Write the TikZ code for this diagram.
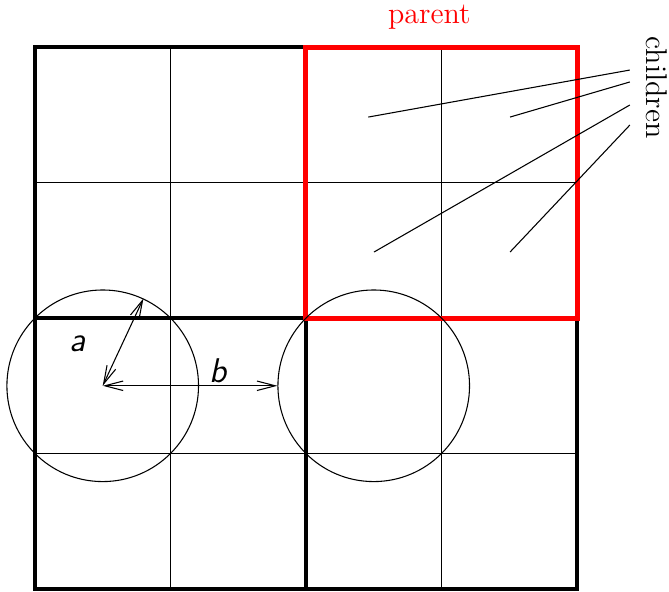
\documentclass[tikz,border=0pt]{standalone}
\usetikzlibrary{arrows.meta, positioning}
\definecolor{myred}{RGB}{255,0,0}

\begin{document}
\begin{tikzpicture}[x=2cm, y=2cm, line width=0.45pt,
    thickbox/.style={line width=1.3pt},
    parentbox/.style={line width=2.1pt, myred},
    dist/.style={{Straight Barb[length=2.7mm,width=1.4mm]}-{Straight Barb[length=2.7mm,width=1.4mm]}},
    ball/.style={circle, draw, inner sep=0pt, minimum size=2.828cm},
    lbl/.style={font=\Large\sffamily\itshape},
    captext/.style={font=\fontsize{12.6}{15}\selectfont}]
\useasboundingbox (-0.258,-0.015) rectangle (4.679,4.347);
% Grid and quadrants
\draw[step=2cm] (0,0) grid (4,4);
\draw[thickbox] (0,0) rectangle (4,4);
\draw[thickbox] (0,2) -- (2,2) (2,0) -- (2,2);
% Parent cell
\draw[parentbox] (2,2) rectangle (4,4);
\node[captext, myred] (parent) at (2.91,4.22) {parent};
% Circles and distances
\node[ball] (balla) at (0.5,1.5) {};
\node[ball] (ballb) at (2.5,1.5) {};
\draw[dist] (balla.center) -- (balla.65);
\draw[dist] (balla.center) -- (ballb.west);
\node[lbl] (lbla) at (0.317,1.81) {a};
\node[lbl] (lblb) at (1.35,1.61) {b};
% Children
\node[captext, rotate=-90] (children) at (4.585,3.70) {children};
\coordinate (k1) at (4.39,3.83);
\coordinate (k2) at (4.39,3.742);
\coordinate (k3) at (4.39,3.572);
\coordinate (k4) at (4.39,3.424);
\coordinate (ch1) at (2.46,3.483);
\coordinate (ch2) at (3.506,3.483);
\coordinate (ch3) at (2.502,2.487);
\coordinate (ch4) at (3.506,2.487);
\foreach \i in {1,...,4} {
    \draw (k\i) -- (ch\i);
}
\end{tikzpicture}
\end{document}
